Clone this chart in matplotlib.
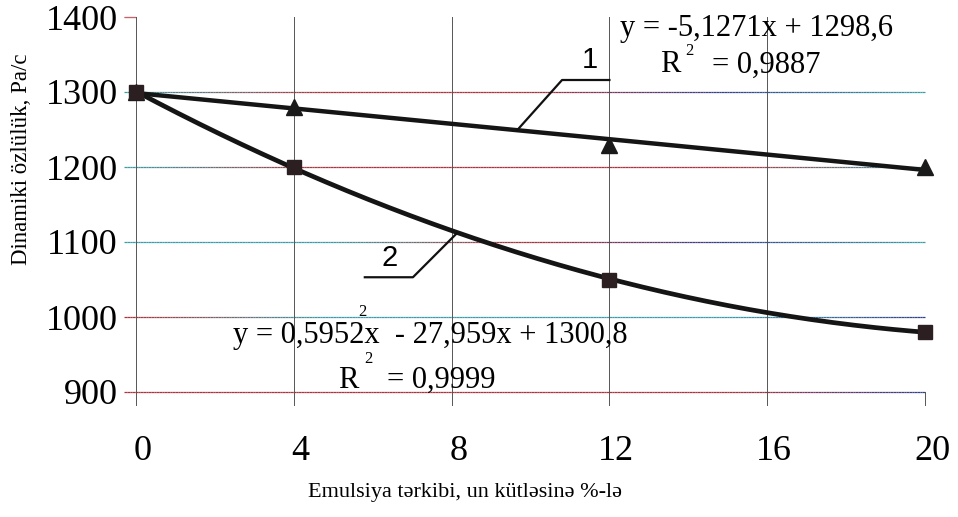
import numpy as np
import matplotlib.pyplot as plt
from matplotlib.collections import LineCollection
from matplotlib.colors import LinearSegmentedColormap
from matplotlib.transforms import ScaledTranslation

plt.rcParams['font.family'] = ['Liberation Serif', 'DejaVu Serif']

# emulsion content, % of flour mass
conc = [0, 4, 12, 20]
# dynamic viscosity, curve 1 and curve 2
visc_1 = [1300, 1280, 1229, 1200]
visc_2 = [1300, 1200, 1050, 980]
# trend line coefficients (highest power first)
lin_coef = [-5.1271, 1298.6]
quad_coef = [0.5952, -27.959, 1300.8]
r2_1 = '0,9887'
r2_2 = '0,9999'

x_ticks = [0, 4, 8, 12, 16, 20]
y_ticks = [900, 1000, 1100, 1200, 1300, 1400]

RED = '#b0323a'
TEAL = '#3a9ea6'
BLUE = '#34408c'
grid_colors = {
    1300: [TEAL, RED, RED, BLUE, TEAL],
    1200: [TEAL, RED, RED, RED, TEAL],
    1100: [TEAL, TEAL, RED, BLUE, TEAL],
    1000: [RED, TEAL, TEAL, TEAL, BLUE],
    900: [RED, RED, RED, RED, BLUE],
}


def gradient_hline(ax, y, colors, x0=-0.3, x1=20, lw=0.9):
    """ Horizontal line whose colour drifts along its length
    """
    xs = np.linspace(x0, x1, 300)
    pts = np.column_stack([xs, np.full_like(xs, y)])
    segs = np.stack([pts[:-1], pts[1:]], axis=1)
    cmap = LinearSegmentedColormap.from_list('grid', colors)
    lc = LineCollection(segs, colors=cmap(np.linspace(0, 1, len(segs))),
                        linewidths=lw, clip_on=False, zorder=1)
    ax.add_collection(lc)


fig = plt.figure(figsize=(9.58, 5.17), dpi=100)
ax = fig.add_axes([136/958, 125/517, 789/958, 375/517])
ax.set_xlim(0, 20)
ax.set_ylim(900, 1400)
for s in ax.spines.values():
    s.set_visible(False)

# grid
for yv, cols in grid_colors.items():
    gradient_hline(ax, yv, cols)
gradient_hline(ax, 1400, [RED, RED], x1=0)
for xv in x_ticks[:-1]:
    ax.plot([xv, xv], [1400, 883], color='#555555', lw=0.7,
            clip_on=False, zorder=1)
ax.plot([20, 20], [900, 883], color='#555555', lw=0.7, clip_on=False)

ax.set_xticks(x_ticks)
ax.set_yticks(y_ticks)
ax.tick_params(axis='x', length=0, pad=31, labelsize=26)
ax.tick_params(axis='y', length=0, pad=13, labelsize=26)
shift = ScaledTranslation(7/100, 0, fig.dpi_scale_trans)
for lbl in ax.get_xticklabels():
    lbl.set_transform(lbl.get_transform() + shift)

# trend lines
xs = np.linspace(0, 20, 300)
ax.plot(xs, np.polyval(lin_coef, xs), color='#151515', lw=3.2,
        solid_capstyle='round', zorder=3)
ax.plot(xs, np.polyval(quad_coef, xs), color='#151515', lw=3.4,
        solid_capstyle='round', zorder=3)

# measured points
ax.plot(conc, visc_1, '^', ms=11, color='#1a1a1a', zorder=4, clip_on=False)
ax.plot(conc, visc_2, 's', ms=10, color='#2b1f22', zorder=5, clip_on=False)

# curve labels with leaders
ax.plot([9.66, 10.8, 12.0], [1249, 1316, 1316], color='#111111', lw=1.6,
        zorder=3)
ax.text(11.51, 1343, '1', family=['Liberation Sans', 'DejaVu Sans'],
        fontsize=21, ha='center', va='center')
ax.plot([8.14, 7.02, 5.8], [1112, 1053, 1053], color='#111111', lw=1.6,
        zorder=3)
ax.text(6.44, 1079, '2', family=['Liberation Sans', 'DejaVu Sans'],
        fontsize=21, ha='center', va='center')

# regression equations
ax.text(12.27, 1385, 'y = %s,%sx + %s' % ('-5', '1271', '1298,6'),
        fontsize=22, ha='left', va='center')
ax.text(13.28, 1336, 'R', fontsize=22, ha='left', va='center')
ax.text(13.92, 1355, '2', fontsize=12, ha='left', va='center')
ax.text(14.6, 1336, '= ' + r2_1, fontsize=22, ha='left', va='center')

ax.text(2.46, 976, 'y = 0,5952x  - 27,959x + 1300,8',
        fontsize=22, ha='left', va='center')
ax.text(5.73, 1007, '2', fontsize=12, ha='center', va='center')
ax.text(5.12, 916, 'R', fontsize=22, ha='left', va='center')
ax.text(5.78, 944, '2', fontsize=12, ha='left', va='center')
ax.text(6.36, 916, '= ' + r2_2, fontsize=22, ha='left', va='center')

fig.text(22/958, 1 - 159/517, 'Dinamiki özlülük, Pa/c', fontsize=16.5,
         rotation=90, ha='center', va='center')
fig.text(465/958, 1 - 493/517, 'Emulsiya tərkibi, un kütləsinə %-lə',
         fontsize=16, ha='center', va='center')

fig.savefig('out.png', dpi=100)
